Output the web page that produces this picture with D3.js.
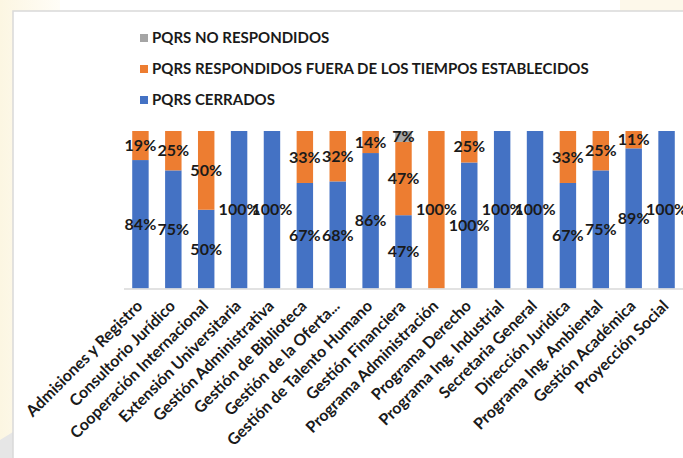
<!DOCTYPE html>
<html>
<head>
<meta charset="utf-8">
<script src="https://cdn.jsdelivr.net/npm/d3@7"></script>
<style>
  body { margin: 0; background: #fff; }
  svg { display: block; font-family: Lato, "Open Sans", sans-serif; }
</style>
</head>
<body>
<div id="chart"></div>
<script>
// datos del grafico (porcentajes tal como aparecen en las etiquetas)
var categories = ["Admisiones y Registro", "Consultorio Jurídico", "Cooperación Internacional", "Extensión Universitaria",
  "Gestión Administrativa", "Gestión de Biblioteca", "Gestión de la Oferta...", "Gestión de Talento Humano",
  "Gestión Financiera", "Programa Administración", "Programa Derecho", "Programa Ing. Industrial",
  "Secretaria General", "Dirección Juridica", "Programa Ing. Ambiental", "Gestión Académica", "Proyección Social"];
var cerrados      = [84, 75, 50, 100, 100, 67, 68, 86, 47, 0, 100, 100, 100, 67, 75, 89, 100];
var fueraTiempo   = [19, 25, 50, 0, 0, 33, 32, 14, 47, 100, 25, 0, 0, 33, 25, 11, 0];
var noRespondidos = [0, 0, 0, 0, 0, 0, 0, 0, 7, 0, 0, 0, 0, 0, 0, 0, 0];
var seriesNames = ["PQRS CERRADOS", "PQRS RESPONDIDOS FUERA DE LOS TIEMPOS ESTABLECIDOS", "PQRS NO RESPONDIDOS"];
var seriesColors = ["#4472C4", "#ED7D31", "#A5A5A5"];

var width = 683, height = 458;
var svg = d3.select("#chart").append("svg").attr("width", width).attr("height", height);

// fondo exterior y marco
var grad = svg.append("defs").append("linearGradient").attr("id", "cream").attr("x1", "0").attr("x2", "1");
grad.append("stop").attr("offset", "0").attr("stop-color", "#fcf6e2");
grad.append("stop").attr("offset", "1").attr("stop-color", "#fffdf7");
svg.append("rect").attr("x", 0).attr("y", 0).attr("width", 60).attr("height", height).attr("fill", "url(#cream)");
svg.append("rect").attr("x", 620).attr("y", 0).attr("width", 63).attr("height", 11).attr("fill", "#fdf8ea");
svg.append("path").attr("d", "M0,440 L13,432 L13,458 L0,458 Z").attr("fill", "#e6e6e6");
svg.append("rect").attr("x", 13).attr("y", 11).attr("width", 700).attr("height", 460)
  .attr("fill", "#fff").attr("stroke", "#d9d9d9").attr("stroke-width", 1.5);

var rows = categories.map(function(c, i) {
  return { cat: c, c0: cerrados[i], c1: fueraTiempo[i], c2: noRespondidos[i] };
});
var stack = d3.stack().keys(["c0", "c1", "c2"]).offset(d3.stackOffsetExpand);
var layers = stack(rows);

var x = d3.scaleBand().domain(categories).range([124, 683]).paddingInner(0.5).paddingOuter(0.25);
var y = d3.scaleLinear().domain([0, 1]).range([288.5, 131]);

var g = svg.selectAll(".layer").data(layers).enter().append("g").attr("class", "layer")
  .attr("fill", function(d, i) { return seriesColors[i]; });
g.selectAll("rect").data(function(d) { return d; }).enter().append("rect")
  .attr("x", function(d) { return x(d.data.cat); })
  .attr("width", x.bandwidth())
  .attr("y", function(d) { return y(d[1]); })
  .attr("height", function(d) { return y(d[0]) - y(d[1]); });

// eje horizontal
svg.append("line").attr("x1", 124).attr("x2", 683).attr("y1", 289).attr("y2", 289)
  .attr("stroke", "#d9d9d9").attr("stroke-width", 1.5);

// etiquetas de datos
layers.forEach(function(layer, li) {
  var key = layer.key;
  svg.append("g").selectAll("text").data(layer.filter(function(d) { return d.data[key] > 0; })).enter()
    .append("text")
    .attr("x", function(d) { return x(d.data.cat) + x.bandwidth() / 2; })
    .attr("y", function(d) { return (y(d[0]) + y(d[1])) / 2; })
    .attr("dy", "0.35em")
    .attr("text-anchor", "middle")
    .style("font-size", "16px").style("font-weight", "bold").style("fill", "#1a1a1a")
    .text(function(d) { return d.data[key] + "%"; });
});

// etiquetas de categorias
var xAxis = svg.append("g");
xAxis.selectAll("text").data(categories).enter().append("text")
  .attr("transform", function(d) {
    return "translate(" + (x(d) + x.bandwidth() / 2 + 3) + ",307) rotate(-45)";
  })
  .attr("text-anchor", "end")
  .style("font-size", "16px").style("font-weight", "bold").style("fill", "#1a1a1a")
  .text(function(d) { return d; });

// leyenda
var legendOrder = [2, 1, 0];
var leg = svg.append("g").selectAll("g").data(legendOrder).enter().append("g")
  .attr("transform", function(d, i) { return "translate(140," + (38 + i * 31) + ")"; });
leg.append("rect").attr("x", 0).attr("y", -4).attr("width", 8).attr("height", 8)
  .attr("fill", function(d) { return seriesColors[d]; });
leg.append("text").attr("x", 12).attr("dy", "0.35em")
  .style("font-size", "15px").style("font-weight", "bold").style("fill", "#1a1a1a")
  .text(function(d) { return seriesNames[d]; });
</script>
</body>
</html>
